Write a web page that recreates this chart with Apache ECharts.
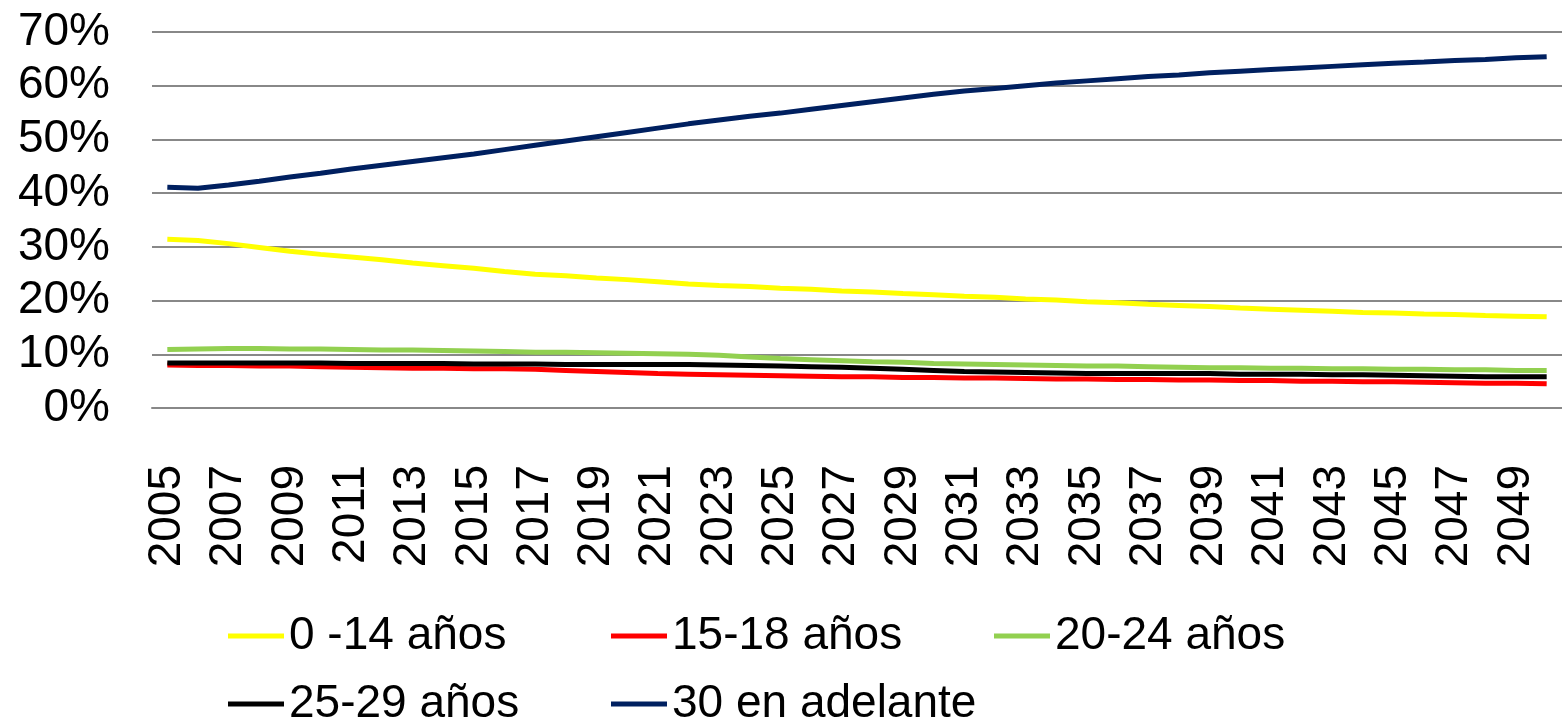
<!DOCTYPE html>
<html>
<head>
<meta charset="utf-8">
<script src="https://cdn.jsdelivr.net/npm/echarts@6/dist/echarts.min.js"></script>
<style>
html,body{margin:0;padding:0;background:#fff;overflow:hidden;}
#chart{width:1562px;height:726px;}
</style>
</head>
<body>
<div id="chart"></div>
<script>
const years = [];
for (let y = 2005; y <= 2050; y++) years.push(String(y));

const seriesNames = ['0 -14 años', '15-18 años', '20-24 años', '25-29 años', '30 en adelante'];
const seriesColors = ['#FFFF00', '#FF0000', '#92D050', '#000000', '#002060'];

const age0_14 = [31.4, 31.2, 30.6, 29.9, 29.2, 28.6, 28.1, 27.6, 27.0, 26.5,
  26.0, 25.4, 24.9, 24.6, 24.2, 23.9, 23.5, 23.1, 22.8, 22.6,
  22.3, 22.1, 21.8, 21.6, 21.3, 21.1, 20.8, 20.6, 20.3, 20.1,
  19.8, 19.6, 19.3, 19.1, 18.9, 18.6, 18.4, 18.2, 18.0, 17.8,
  17.7, 17.5, 17.4, 17.2, 17.1, 17.0];
const age15_18 = [8.0, 7.9, 7.9, 7.8, 7.8, 7.7, 7.6, 7.5, 7.4, 7.4,
  7.3, 7.3, 7.2, 7.0, 6.8, 6.6, 6.4, 6.3, 6.2, 6.1,
  6.0, 5.9, 5.8, 5.8, 5.7, 5.7, 5.6, 5.6, 5.5, 5.4,
  5.4, 5.3, 5.3, 5.2, 5.2, 5.1, 5.1, 5.0, 5.0, 4.9,
  4.9, 4.8, 4.7, 4.6, 4.6, 4.5];
const age20_24 = [10.9, 11.0, 11.1, 11.1, 11.0, 11.0, 10.9, 10.8, 10.8, 10.7,
  10.6, 10.5, 10.4, 10.4, 10.3, 10.2, 10.1, 10.0, 9.8, 9.5,
  9.2, 9.0, 8.8, 8.6, 8.5, 8.3, 8.2, 8.1, 8.0, 7.9,
  7.8, 7.8, 7.7, 7.6, 7.5, 7.5, 7.4, 7.4, 7.3, 7.3,
  7.2, 7.2, 7.1, 7.1, 7.0, 7.0];
const age25_29 = [8.4, 8.4, 8.4, 8.4, 8.4, 8.4, 8.3, 8.3, 8.3, 8.3,
  8.2, 8.2, 8.2, 8.1, 8.1, 8.1, 8.1, 8.1, 8.0, 7.9,
  7.8, 7.7, 7.6, 7.4, 7.2, 7.0, 6.8, 6.7, 6.6, 6.5,
  6.4, 6.4, 6.4, 6.4, 6.4, 6.3, 6.3, 6.3, 6.2, 6.2,
  6.1, 6.0, 5.9, 5.8, 5.8, 5.8];
const age30plus = [41.1, 40.9, 41.5, 42.2, 43.0, 43.7, 44.5, 45.2, 45.9, 46.6,
  47.3, 48.1, 48.9, 49.7, 50.5, 51.3, 52.1, 52.9, 53.6, 54.3,
  54.9, 55.6, 56.3, 57.0, 57.7, 58.4, 59.0, 59.5, 60.0, 60.5,
  60.9, 61.3, 61.7, 62.0, 62.4, 62.7, 63.0, 63.3, 63.6, 63.9,
  64.2, 64.4, 64.7, 64.9, 65.2, 65.4];

const yTicks = [0, 10, 20, 30, 40, 50, 60, 70];

const allData = [age0_14, age15_18, age20_24, age25_29, age30plus];
const legendPos = [[228, 613], [611, 613], [994, 613], [228, 681], [611, 681]];

const FONT = 'Liberation Sans, Arial, sans-serif';

const chart = echarts.init(document.getElementById('chart'), null, {renderer: 'canvas'});
chart.setOption({
  animation: false,
  backgroundColor: '#ffffff',
  grid: {left: 152, right: -14, top: 32, bottom: 318, containLabel: false},
  legend: seriesNames.map((n, i) => ({
    data: [n],
    left: legendPos[i][0],
    top: legendPos[i][1],
    padding: 0,
    icon: 'rect',
    itemWidth: 56,
    itemHeight: 5,
    textStyle: {fontFamily: FONT, fontSize: 46, color: '#000'}
  })),
  xAxis: {
    type: 'category',
    data: years,
    boundaryGap: true,
    axisLine: {show: true, lineStyle: {color: '#888888', width: 2}},
    axisTick: {show: false},
    axisLabel: {
      interval: 1,
      rotate: 90,
      margin: 57,
      fontFamily: FONT,
      fontSize: 46,
      color: '#000'
    },
    splitLine: {show: false}
  },
  yAxis: {
    type: 'value',
    min: yTicks[0],
    max: yTicks[yTicks.length - 1],
    interval: 10,
    axisLine: {show: false},
    axisTick: {show: false},
    axisLabel: {
      formatter: '{value}%',
      margin: 42,
      fontFamily: FONT,
      fontSize: 46,
      color: '#000'
    },
    splitLine: {show: true, lineStyle: {color: '#888888', width: 2}}
  },
  series: seriesNames.map((n, i) => ({
    name: n,
    type: 'line',
    data: allData[i],
    symbol: 'none',
    smooth: false,
    lineStyle: {color: seriesColors[i], width: 5},
    itemStyle: {color: seriesColors[i]}
  }))
});
</script>
</body>
</html>
